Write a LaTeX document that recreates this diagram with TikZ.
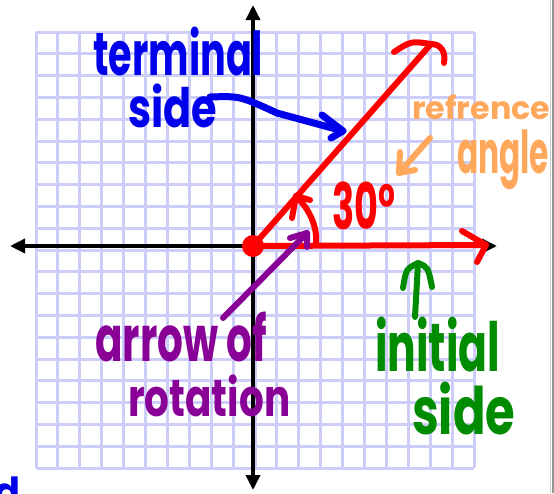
\documentclass[tikz,border=0pt]{standalone}
\usepackage{fontspec}
\setmainfont{Poppins}
\usepackage{graphicx}
\usetikzlibrary{arrows.meta}
\definecolor{gridc}{RGB}{205,205,250}
\definecolor{mblue}{RGB}{0,0,235}
\definecolor{mred}{RGB}{255,0,0}
\definecolor{morange}{RGB}{255,168,92}
\definecolor{mpurple}{RGB}{136,0,150}
\definecolor{mgreen}{RGB}{0,140,0}
\begin{document}
\begin{tikzpicture}[x=1pt,y=-1pt,
  lbl/.style={anchor=north west,inner sep=0pt,font=\bfseries},
  marker/.style={line width=6pt,line cap=round,line join=round},
  axis/.style={line width=3.5pt,{Triangle[length=15pt,width=14pt]}-{Triangle[length=15pt,width=14pt]}},
  gridline/.style={gridc,line width=3pt}
]
\clip (0,0) rectangle (554,493);
\fill[white] (0,0) rectangle (554,493);
% grid
\foreach \i in {0,...,20}{
  \draw[gridline] ({36+\i*21.9},32) -- ({36+\i*21.9},468);
  \draw[gridline] (36,{32+\i*21.8}) -- (474,{32+\i*21.8});
}
% right border
\draw[gray!40,line width=1pt] (550.5,0) -- (550.5,493);
\draw[gray!85,line width=2pt] (552.5,0) -- (552.5,493);
% axes
\coordinate (xl) at (10,246);
\coordinate (xr) at (497,246);
\coordinate (yt) at (253,5);
\coordinate (yb) at (253,490);
\draw[axis] (xl) -- (xr);
\draw[axis] (yt) -- (yb);
% origin
\node[circle,fill=mred,minimum size=22pt,inner sep=0pt] (O) at (253,246) {};
% terminal side
\coordinate (T) at (431,44);
\draw[marker,mred] (O.center) -- (T);
\draw[marker,mred] ([shift={(-37,8)}]T) .. controls ([shift={(-20,-3)}]T) .. (T)
  .. controls ([shift={(10,0)}]T) and ([shift={(15,8)}]T) .. ([shift={(13,19)}]T);
% initial side
\coordinate (I) at (486,245);
\draw[marker,mred] (O.center) -- (I);
\draw[marker,mred] ([shift={(-24,-14)}]I) -- (I) -- ([shift={(-9,17)}]I);
% arc of angle
\coordinate (A0) at (316,245);
\coordinate (A1) at (296,196);
\draw[marker,mred] (A0) .. controls (318,224) and (307,207) .. (A1);
\draw[marker,mred] ([shift={(-4,22)}]A1) -- (A1) -- ([shift={(14,4)}]A1);
\node[lbl,mred] (deg) at (332,182) {\resizebox*{63pt}{48pt}{30°}};
% terminal side label
\node[lbl,mblue] (term) at (93,27) {\resizebox*{170pt}{49pt}{terminal}};
\node[lbl,mblue] (tside) at (128,84) {\resizebox*{89pt}{44pt}{side}};
\coordinate (B0) at (210,97);
\coordinate (B1) at (343,131);
\draw[marker,mblue,line width=7pt] (B0) .. controls (240,96) .. (277,113) -- (B1);
\draw[marker,mblue,line width=7pt] ([shift={(-21,-16)}]B1) -- (B1) -- ([shift={(-12,7)}]B1);
% reference angle label
\node[lbl,morange] (ref) at (412,95) {\resizebox*{138pt}{25pt}{refrence}};
\node[lbl,morange] (ang) at (457,130) {\resizebox*{92pt}{60pt}{angle}};
\coordinate (R0) at (430,138);
\coordinate (R1) at (399,173);
\draw[marker,morange] (R0) -- (R1);
\draw[marker,morange] ([shift={(1,-21)}]R1) -- (R1) -- ([shift={(16,-3)}]R1);
% arrow of rotation label
\node[lbl,mpurple] (arr) at (95,312) {\resizebox*{172pt}{50pt}{arrow of}};
\node[lbl,mpurple] (rot) at (128,375) {\resizebox*{162pt}{42pt}{rotation}};
\coordinate (P0) at (223,318);
\coordinate (P1) at (307,233);
\draw[marker,mpurple] (P0) -- (P1);
\draw[marker,mpurple] ([shift={(-17,5)}]P1) -- (P1) -- ([shift={(0,14)}]P1);
% initial side label
\node[lbl,mgreen] (init) at (375,317) {\resizebox*{125pt}{55pt}{initial}};
\node[lbl,mgreen] (iside) at (412,382) {\resizebox*{103pt}{53pt}{side}};
\coordinate (G0) at (415,317);
\coordinate (G1) at (418,263);
\draw[marker,mgreen] (G0) -- (G1);
\draw[marker,mgreen] ([shift={(-15,25)}]G1) .. controls ([shift={(-12,6)}]G1) .. (G1)
  .. controls ([shift={(10,4)}]G1) .. ([shift={(14,24)}]G1);
% partial letter at bottom left
\node[anchor=north east,inner sep=0pt,mblue,font=\bfseries] (dd) at (21,477) {\resizebox*{26pt}{30pt}{d}};
\end{tikzpicture}
\end{document}
